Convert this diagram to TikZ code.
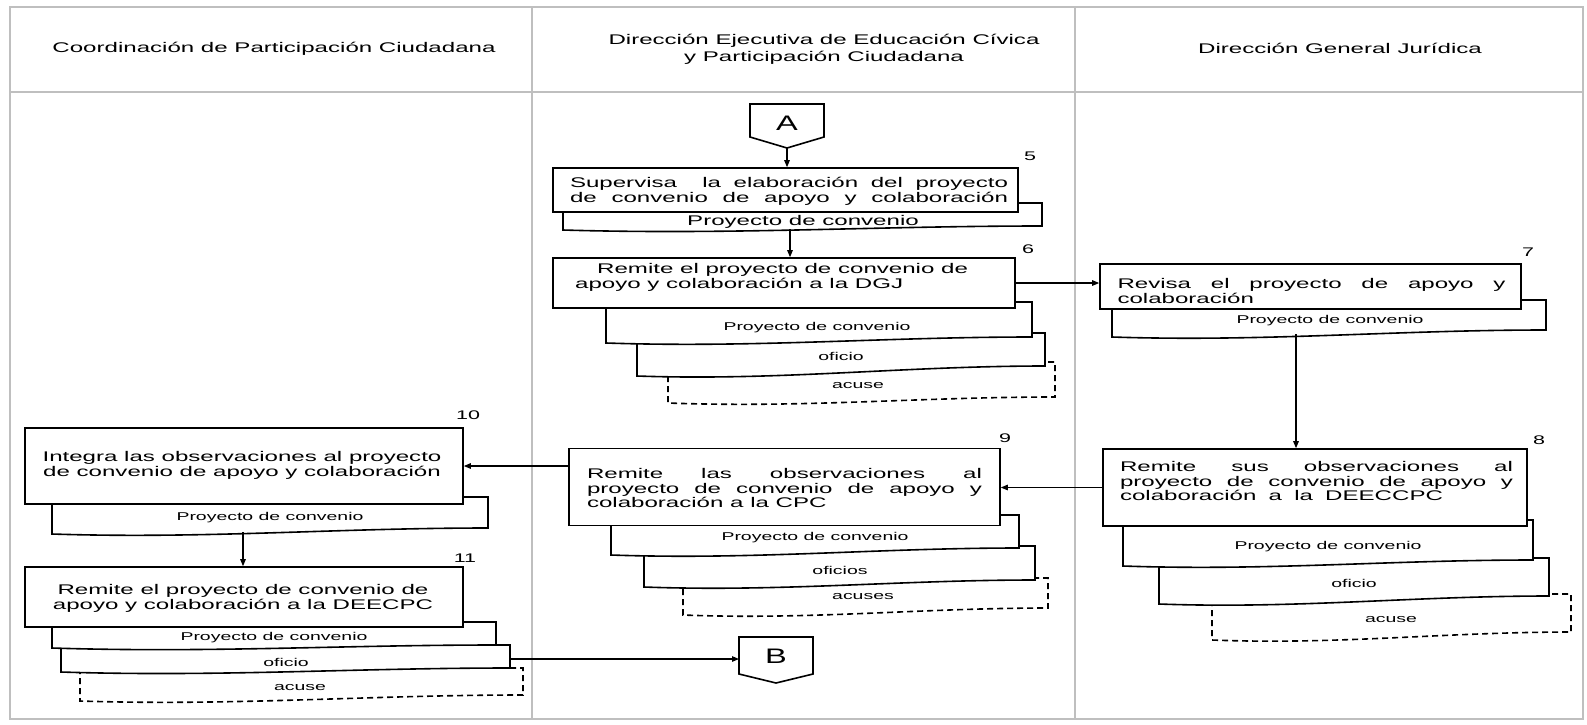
\documentclass[tikz,border=0pt]{standalone}
\usepackage{fontspec}
\setmainfont{Liberation Sans}[FakeStretch=1.72]
\newfontfamily\letterfont{Liberation Sans}[FakeStretch=1.55]
\usetikzlibrary{arrows.meta}
\newcommand{\jline}[2]{\makebox[#1pt][s]{#2}}
\newcommand{\docshp}[6]{\path[#1] (#2,#3) -- (#4,#3) -- (#4,#6) .. controls ({#2+0.65*(#4-#2)},{#6}) and ({#2+0.35*(#4-#2)},{#5+5}) .. (#2,#5) -- cycle;}
\begin{document}
\begin{tikzpicture}[x=1pt,y=-1pt,
  grid/.style={draw=gray!50, line width=1.6pt},
  stepbox/.style={draw=black, line width=1.6pt, fill=white, inner sep=0pt},
  docshape/.style={draw=black, line width=1.6pt, fill=white},
  docdash/.style={docshape, dash pattern=on 6pt off 4pt},
  txt/.style={inner sep=0pt, font=\fontsize{14}{14.8}\selectfont},
  head/.style={inner sep=0pt, font=\fontsize{14}{16.5}\selectfont},
  small/.style={inner sep=0pt, font=\fontsize{11.3}{12}\selectfont},
  num/.style={inner sep=0pt, font=\fontsize{12.5}{13}\selectfont},
  letter/.style={inner sep=0pt, font=\letterfont\fontsize{21}{21}\selectfont},
  conn/.style={draw=black, line width=1.2pt, -{Triangle[length=7pt,width=5.5pt]}},
]
\useasboundingbox (0,0) rectangle (1587,724);
% table
\draw[grid] (10,7) rectangle (1583,719);
\draw[grid] (10,92) -- (1583,92);
\draw[grid] (532,7) -- (532,719);
\draw[grid] (1075,7) -- (1075,719);
\node[head] (h1) at (274,49) {Coordinación de Participación Ciudadana};
\node[head, align=center] (h2) at (824,49.5) {Dirección Ejecutiva de Educación Cívica\\y Participación Ciudadana};
\node[head] (h3) at (1340,48) {Dirección General Jurídica};

% connector A
\draw[line width=1.6pt, fill=white] (750,104) -- (824,104) -- (824,137) -- (787,148) -- (750,137) -- cycle;
\node[letter] (At) at (787,123) {A};
\coordinate (Ap) at (787,148);

% step 5
\docshp{docshape}{563}{203}{1042}{230}{226}
\node[txt] (d5t) at (803,222) {Proyecto de convenio};
\node[stepbox, minimum width=465pt, minimum height=44pt] (s5) at (785.5,190) {};
\node[txt, align=left] (t5) at (789,191) {\jline{438}{Supervisa\ \ la elaboración del proyecto}\\\jline{438}{de convenio de apoyo y colaboración}};
\node[num] (n5) at (1030,156) {5};
\coordinate (d5b) at (790,229);

% step 6
\docshp{docdash}{668}{362}{1055}{403}{397}
\node[small] (d6c) at (858,386) {acuse};
\docshp{docshape}{637}{333}{1045}{376}{366}
\node[small] (d6b) at (841,356) {oficio};
\docshp{docshape}{606}{302}{1032}{343}{337}
\node[small] (d6a) at (817,328) {Proyecto de convenio};
\node[stepbox, minimum width=462pt, minimum height=50pt] (s6) at (784,283) {};
\node[txt, align=left, anchor=west] (t6) at (575,277.5) {\hspace*{22pt}Remite el proyecto de convenio de\\apoyo y colaboración a la DGJ};
\node[num] (n6) at (1028,249) {6};

% step 7
\docshp{docshape}{1112}{300}{1546}{337}{330}
\node[small] (d7t) at (1330,321) {Proyecto de convenio};
\node[stepbox, minimum width=421pt, minimum height=45pt] (s7) at (1310.5,286.5) {};
\node[txt, align=left] (t7) at (1311.5,291) {\jline{388}{Revisa el proyecto de apoyo y}\\colaboración};
\node[num] (n7) at (1528,252) {7};
\coordinate (d7b) at (1296,334);

% step 8
\docshp{docdash}{1212}{594}{1571}{640}{632}
\node[small] (d8c) at (1391,620) {acuse};
\docshp{docshape}{1159}{558}{1549}{604}{596}
\node[small] (d8b) at (1354,583) {oficio};
\docshp{docshape}{1123}{520}{1533}{566}{560}
\node[small] (d8a) at (1328,547) {Proyecto de convenio};
\node[stepbox, minimum width=424pt, minimum height=77pt] (s8) at (1315,487.5) {};
\node[txt, align=left] (t8) at (1316.5,481) {\jline{393}{Remite sus observaciones al}\\\jline{393}{proyecto de convenio de apoyo y}\\\jline{323}{colaboración a la DEECCPC}};
\node[num] (n8) at (1539,440) {8};

% step 9
\docshp{docdash}{683}{578}{1048}{615}{608}
\node[small] (d9c) at (863,597) {acuses};
\docshp{docshape}{644}{546}{1035}{587}{580}
\node[small] (d9b) at (840,570) {oficios};
\docshp{docshape}{611}{515}{1019}{555}{548}
\node[small] (d9a) at (815,538) {Proyecto de convenio};
\node[stepbox, minimum width=431pt, minimum height=77pt] (s9) at (784.5,487) {};
\node[txt, align=left] (t9) at (784.5,488) {\jline{395}{Remite las observaciones al}\\\jline{395}{proyecto de convenio de apoyo y}\\colaboración a la CPC};
\node[num] (n9) at (1005,438) {9};

% step 10
\docshp{docshape}{52}{497}{488}{534}{528}
\node[small] (d10t) at (270,518) {Proyecto de convenio};
\node[stepbox, minimum width=438pt, minimum height=76pt] (s10) at (244,466) {};
\node[txt, align=center] (t10) at (242,465) {Integra las observaciones al proyecto\\de convenio de apoyo y colaboración};
\node[num] (n10) at (468,415) {10};
\coordinate (d10b) at (243,532);

% step 11
\docshp{docdash}{80}{668}{523}{701}{695}
\node[small] (d11c) at (300,688) {acuse};
\docshp{docshape}{61}{645}{510}{672}{668}
\node[small] (d11b) at (286,662) {oficio};
\docshp{docshape}{52}{622}{496}{648}{645}
\node[small] (d11a) at (274,638) {Proyecto de convenio};
\node[stepbox, minimum width=438pt, minimum height=60pt] (s11) at (244,597) {};
\node[txt, align=center] (t11) at (243,598) {Remite el proyecto de convenio de\\apoyo y colaboración a la DEECPC};
\node[num] (n11) at (465,558) {11};
\coordinate (o11r) at (510,659);

% connector B
\draw[line width=1.6pt, fill=white] (739,637) -- (813,637) -- (813,674) -- (776,683) -- (739,674) -- cycle;
\node[letter] (Bt) at (776,656) {B};
\coordinate (Bl) at (739,659);

% connectors
\draw[conn] (Ap) -- (Ap |- s5.north);
\draw[conn] (d5b) -- (d5b |- s6.north);
\draw[conn] (s6.east) -- (s6.east -| s7.west);
\draw[conn] (d7b) -- (d7b |- s8.north);
\draw[conn] (s8.west) -- (s8.west -| s9.east);
\draw[conn] (s9.west |- s10.east) -- (s10.east);
\draw[conn] (d10b) -- (d10b |- s11.north);
\draw[conn] (o11r) -- (Bl);
\end{tikzpicture}
\end{document}
